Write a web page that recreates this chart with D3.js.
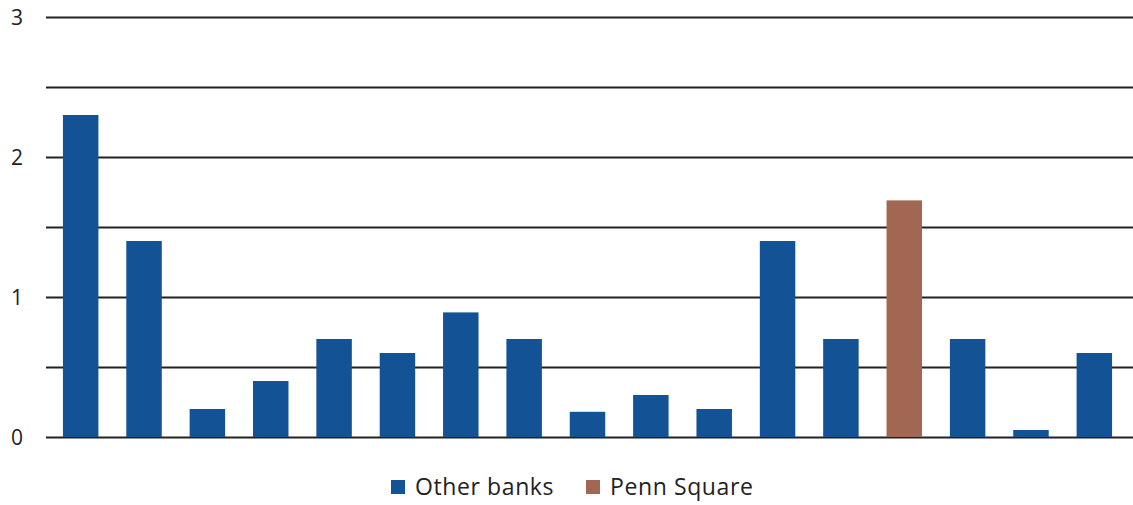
<!DOCTYPE html>
<html>
<head>
<meta charset="utf-8">
<script src="https://cdn.jsdelivr.net/npm/d3@7"></script>
<style>
  body { margin: 0; background: #fff; }
  text { font-family: "Open Sans", "Noto Sans", sans-serif; fill: #222; }
</style>
</head>
<body>
<div id="chart"></div>
<script>
var svgWidth = 1133;
var svgHeight = 505;

// one bar per bank, left to right
var categories = d3.range(1, 18).map(String);
var values = [2.3, 1.4, 0.2, 0.4, 0.7, 0.6, 0.89, 0.7, 0.18, 0.3, 0.2, 1.4, 0.7, 1.69, 0.7, 0.05, 0.6];
var groups = ["Other banks", "Other banks", "Other banks", "Other banks", "Other banks", "Other banks",
    "Other banks", "Other banks", "Other banks", "Other banks", "Other banks", "Other banks",
    "Other banks", "Penn Square", "Other banks", "Other banks", "Other banks"];
var seriesNames = ["Other banks", "Penn Square"];
var gridTicks = [0, 0.5, 1, 1.5, 2, 2.5, 3];
var labelTicks = [0, 1, 2, 3];

var margin = { top: 17, right: 0, bottom: 68, left: 46 };
var width = svgWidth - margin.left - margin.right;
var height = svgHeight - margin.top - margin.bottom;

var color = d3.scaleOrdinal()
    .domain(seriesNames)
    .range(["#135294", "#a26752"]);

var svg = d3.select("#chart")
    .append("svg")
    .attr("width", svgWidth)
    .attr("height", svgHeight);

var chartGroup = svg.append("g")
    .attr("transform", `translate(${margin.left}, ${margin.top})`);

var xScale = d3.scaleBand()
    .domain(categories)
    .range([3, 1080])
    .paddingInner(0.44)
    .paddingOuter(0.22);

var yScale = d3.scaleLinear()
    .domain([0, 3])
    .range([height, 0]);

// gridlines
var leftAxis = d3.axisLeft(yScale)
    .tickValues(gridTicks)
    .tickSize(-width)
    .tickFormat("");

var gridGroup = chartGroup.append("g").call(leftAxis);
gridGroup.select(".domain").remove();
gridGroup.selectAll("line")
    .attr("stroke", "#222")
    .attr("stroke-width", 2);

// tick labels
chartGroup.selectAll(".ylabel")
    .data(labelTicks)
    .enter()
    .append("text")
    .attr("class", "ylabel")
    .attr("x", -23)
    .attr("y", d => yScale(d))
    .attr("dy", "0.36em")
    .attr("text-anchor", "end")
    .attr("font-size", "21px")
    .text(d => d);

// bars
chartGroup.selectAll("rect.bar")
    .data(values)
    .enter()
    .append("rect")
    .attr("class", "bar")
    .attr("x", (d, i) => xScale(categories[i]))
    .attr("y", d => yScale(d))
    .attr("width", xScale.bandwidth())
    .attr("height", d => height - yScale(d))
    .attr("fill", (d, i) => color(groups[i]));

// legend
var legendX = [391, 586];
var legend = svg.selectAll(".legend")
    .data(seriesNames)
    .enter()
    .append("g")
    .attr("class", "legend")
    .attr("transform", (d, i) => `translate(${legendX[i]}, 480)`);

legend.append("rect")
    .attr("width", 14)
    .attr("height", 14)
    .attr("fill", d => color(d));

legend.append("text")
    .attr("x", 24)
    .attr("y", 15)
    .attr("font-size", "23px")
    .attr("letter-spacing", "0.6px")
    .text(d => d);
</script>
</body>
</html>
